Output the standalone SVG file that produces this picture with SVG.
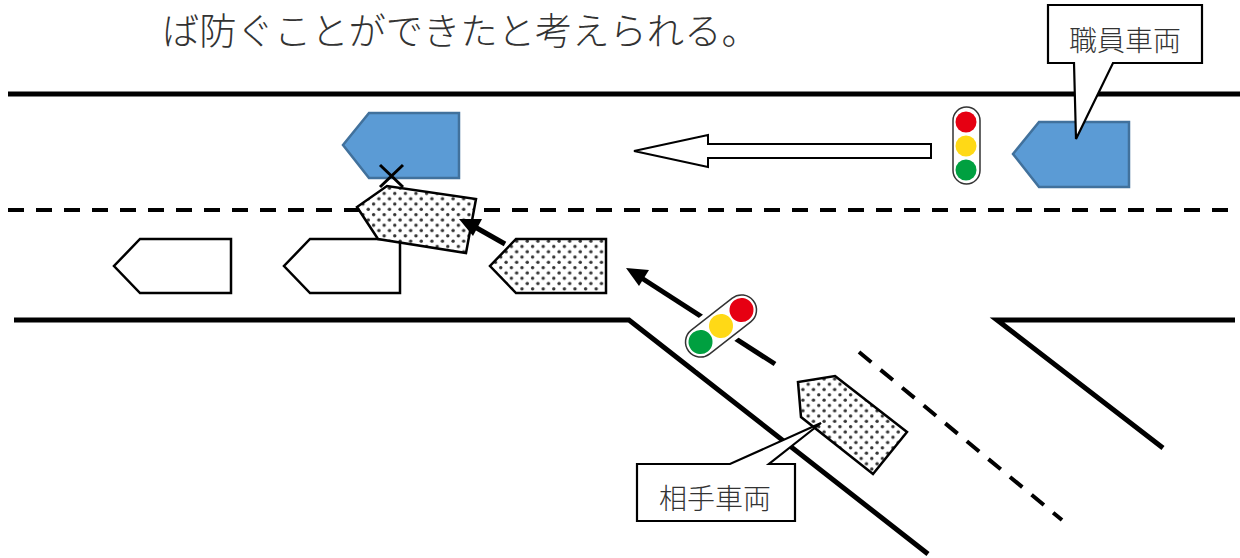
<svg xmlns="http://www.w3.org/2000/svg" width="1240" height="558" viewBox="0 0 1240 558">
<style>
.j{font-family:"Noto Sans CJK JP","Liberation Serif",serif;fill:#333;font-weight:300}
.road{fill:none;stroke:#000;stroke-width:5}
.dash{fill:none;stroke:#000;stroke-width:4;stroke-dasharray:16 12}
.blue{fill:#5b9bd5;stroke:#41719c;stroke-width:2.5}
.car{fill:#fff;stroke:#000;stroke-width:2.5}
.dot{fill:url(#dots);stroke:#000;stroke-width:2.5}
.call{fill:#fff;stroke:#000;stroke-width:2.2}
.arr{fill:none;stroke:#000;stroke-width:5}
.head{fill:#000}
.sig{fill:#fff;stroke:#333;stroke-width:1.5}
</style>
<defs>
<pattern id="dots" width="10.6" height="10.6" patternUnits="userSpaceOnUse">
<rect width="10.6" height="10.6" fill="#fff"/>
<circle cx="2.6" cy="2.6" r="1.7" fill="#333"/>
<circle cx="7.9" cy="7.9" r="1.7" fill="#333"/>
</pattern>
</defs>
<text class="j" x="162" y="45" font-size="37.3">ば防ぐことができたと考えられる。</text>
<g id="connectors">
<path class="road" d="M8 94H1240"/>
<path class="dash" d="M8 210H1232"/>
<path class="road" d="M14 320H629L928 554"/>
<path class="road" d="M1235 320H997L1163 448"/>
<path class="dash" d="M859 352L1062 520"/>
</g>
<g id="car-staff-after"><path class="blue" d="M459 113V178H369L343 145L369 113Z"/></g>
<g id="car-white-1"><path class="car" d="M231 239V293H140L114 266L140 239Z"/></g>
<g id="car-white-2"><path class="car" d="M400 239V293H310L284 266L310 239Z"/></g>
<g id="car-other-collision"><path class="dot" d="M476 199L466 253L378 239L357 207L387 186Z"/></g>
<g id="collision-mark"><path d="M380 165L403 187M403 165L380 187" stroke="#000" stroke-width="3" fill="none"/></g>
<g id="car-other-2"><path class="dot" d="M606 239V293H516L490 266L516 239Z"/></g>
<g id="car-other-1"><path class="dot" d="M835 376L907 432L873 474L801 417L798 382Z"/></g>
<g id="connector-arrows">
<path class="arr" d="M505 244L475 227"/>
<path class="head" d="M459 219L482 219L473 236Z"/>
<path class="arr" d="M775 364L640 277"/>
<path class="head" d="M626 268L649 270L639 286Z"/>
</g>
<g id="open-arrow"><path d="M931 144V158H708V167L634 151L708 135V144Z" fill="#fff" stroke="#000" stroke-width="2"/></g>
<g id="signal-1">
<rect class="sig" x="953" y="107" width="27" height="77" rx="13.5"/>
<circle cx="966" cy="122" r="10.5" fill="#e60012"/>
<circle cx="966" cy="146" r="10.5" fill="#ffd916"/>
<circle cx="966" cy="170" r="10.5" fill="#00a040"/>
</g>
<g id="signal-2" transform="rotate(-38 721 326)">
<rect x="675" y="306" width="92" height="40" fill="#fff"/>
<rect class="sig" x="680" y="311" width="82" height="30" rx="15"/>
<circle cx="695" cy="326" r="12" fill="#00a040"/>
<circle cx="721" cy="326" r="12" fill="#ffd916"/>
<circle cx="747" cy="326" r="12" fill="#e60012"/>
</g>
<g id="car-staff"><path class="blue" d="M1129 122V187H1039L1013 154L1039 122Z"/></g>
<g id="callout-staff">
<path class="call" d="M1048 5H1202V63H1113L1076 139L1074 63H1048Z"/>
<text class="j" x="1125" y="51" font-size="28" text-anchor="middle">職員車両</text>
</g>
<g id="callout-other">
<path class="call" d="M637 464H730L821 423L769 464H795V521H637Z"/>
<text class="j" x="715" y="509" font-size="28" text-anchor="middle">相手車両</text>
</g>
</svg>
